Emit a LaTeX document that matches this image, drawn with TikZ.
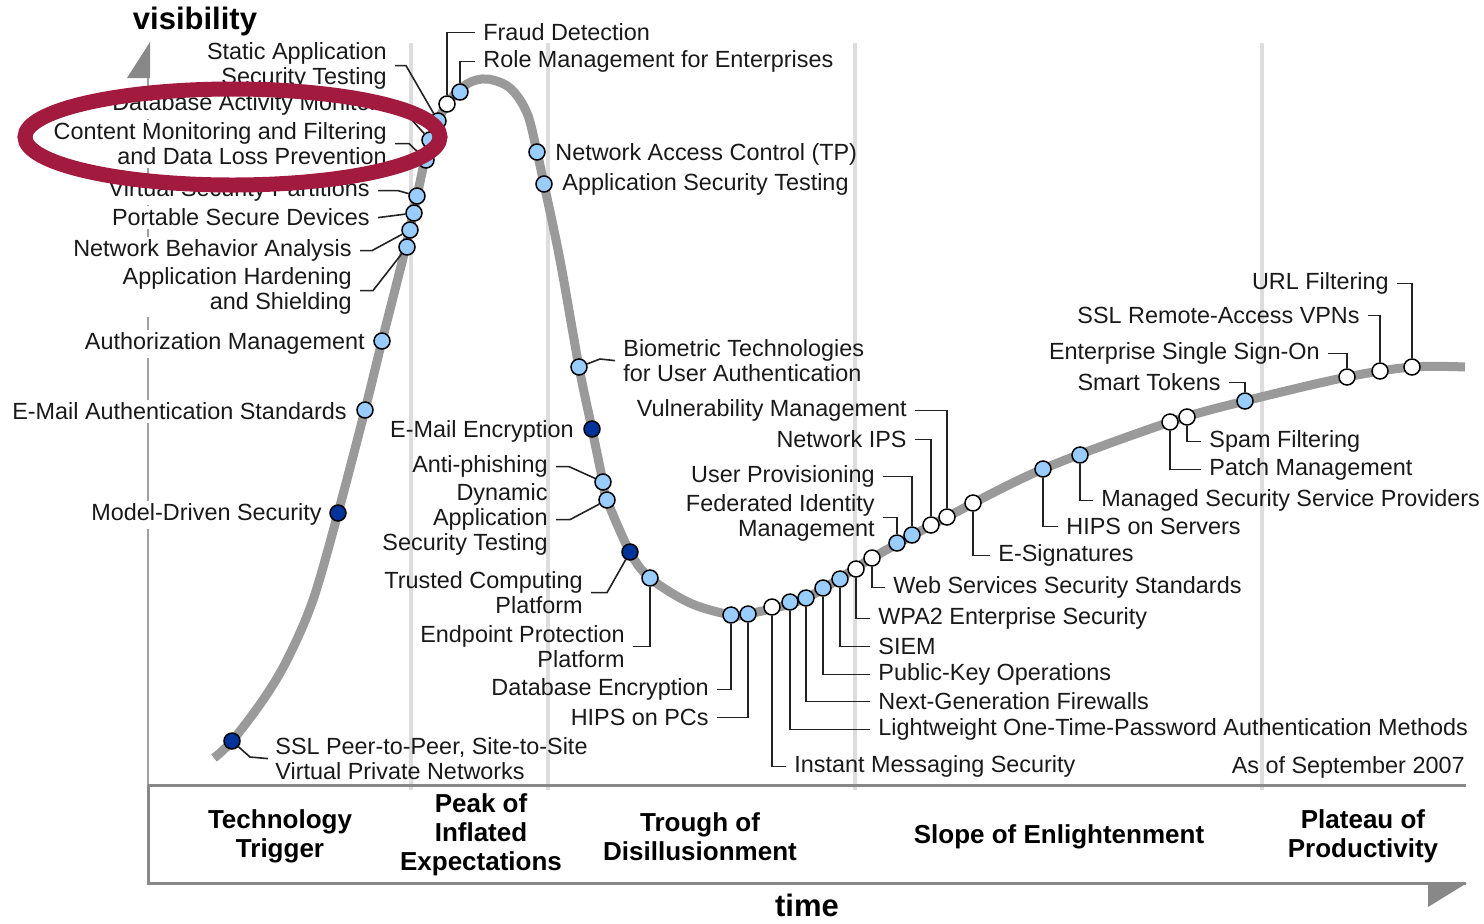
\documentclass[tikz,border=0pt]{standalone}
\usepackage{fontspec}
\setmainfont{Liberation Sans}
\newcommand\labfont{\fontsize{11.7}{12.5}\selectfont}
\newcommand\phasefont{\fontsize{13}{14.4}\selectfont\bfseries}
\newcommand\axfont{\fontsize{15.5}{17}\selectfont\bfseries}
\definecolor{lblue}{HTML}{99CCFF}
\definecolor{dblue}{HTML}{003399}
\definecolor{curvec}{HTML}{9A9A9A}
\definecolor{sepc}{HTML}{DDDDDD}
\definecolor{axc}{HTML}{888888}
\definecolor{conc}{HTML}{222222}
\definecolor{ringc}{HTML}{A31A3F}
\pgfdeclarelayer{back}
\pgfdeclarelayer{mid}
\pgfdeclarelayer{front}
\pgfsetlayers{back,mid,main,front}
\begin{document}
\begin{tikzpicture}[x=0.5pt,y=-0.5pt,
  lbl/.style={font=\labfont, inner sep=0pt, text=black!90, yshift=-0.8pt},
  lblw/.style={lbl, fill=white, inner xsep=0pt, inner ysep=1.5pt},
  phase/.style={font=\phasefont, align=center, inner sep=0pt, yshift=-0.8pt},
  axlbl/.style={font=\axfont, inner sep=0pt},
  dotbase/.style={circle, draw=black, line width=0.75pt, minimum size=8pt, inner sep=0pt},
  dl/.style={dotbase, fill=lblue},
  dw/.style={dotbase, fill=white},
  dd/.style={dotbase, fill=dblue},
  con/.style={draw=conc, line width=0.8pt},
  sepline/.style={draw=sepc, line width=2pt},
]
\useasboundingbox (0,0) rectangle (1484,923);

% ---------- background: separators, axes, frame, curve
\begin{pgfonlayer}{back}
\foreach \sx in {411,548,855,1262} \draw[sepline] (\sx,43) -- (\sx,790);
\draw[draw=axc!80, line width=1.2pt] (148,77) -- (148,785);
\fill[axc] (127,78) -- (150,42) -- (150,78) -- cycle;
\draw[draw=axc, line width=1.5pt] (148,785) -- (1466,785);
\draw[draw=axc, line width=1.5pt] (148,785) -- (148,883) -- (1466,883);
\fill[axc] (1428,883) -- (1467,883) -- (1428,907) -- cycle;
\draw[draw=curvec, line width=4.5pt] plot[smooth, tension=0.55] coordinates {
 (214,758) (232,741) (263,700) (287,660) (313,600) (338,513) (365,410) (382,341)
 (405,250) (417,196) (430,140) (447,104) (467,84) (487,79) (510,88) (527,113)
 (537,152) (544,184) (560,260) (579,367) (592,429) (603,482) (607,500) (630,552)
 (650,578) (690,603) (731,615) (748,614) (806,598) (872,558) (947,517) (1043,469)
 (1170,422) (1245,401) (1347,377) (1412,367) (1465,367)};
\end{pgfonlayer}

% ---------- axis and phase labels
\node[axlbl] (vis) at (195,21) {visibility};
\node[axlbl] (time) at (807,905) {time};
\node[phase] (ph1) at (280,835) {Technology\\Trigger};
\node[phase] (ph2) at (481,833) {Peak of\\Inflated\\Expectations};
\node[phase] (ph3) at (700,835) {Trough of\\Disillusionment};
\node[phase] (ph4) at (1059,835) {Slope of Enlightenment};
\node[phase] (ph5) at (1363,835) {Plateau of\\Productivity};

% ---------- dots
\node[dd] (dSSL) at (232,741) {};
\node[dd] (dMDS) at (338,513) {};
\node[dl] (dEAS) at (365,410) {};
\node[dl] (dAM) at (382,341) {};
\node[dl] (dAHS) at (407,247) {};
\node[dl] (dNBA) at (410,230) {};
\node[dl] (dPSD) at (414,213) {};
\node[dl] (dVSP) at (417,196) {};
\node[dl] (dCMF) at (426,160) {};
\node[dl] (dDAM) at (430,140) {};
\node[dl] (dSAST) at (438,121) {};
\node[dw] (dFD) at (447,104) {};
\node[dl] (dRM) at (460,92) {};
\node[dl] (dNAC) at (537,152) {};
\node[dl] (dAST) at (544,184) {};
\node[dl] (dBT) at (579,367) {};
\node[dd] (dEE) at (592,429) {};
\node[dl] (dAP) at (603,482) {};
\node[dl] (dDAST) at (607,500) {};
\node[dd] (dTCP) at (630,552) {};
\node[dl] (dEPP) at (650,578) {};
\node[dl] (dDE) at (731,615) {};
\node[dl] (dHP) at (748,614) {};
\node[dw] (dIMS) at (772,607) {};
\node[dl] (dLOTP) at (790,602) {};
\node[dl] (dNGF) at (806,598) {};
\node[dl] (dPKO) at (823,588) {};
\node[dl] (dSIEM) at (840,579) {};
\node[dw] (dWPA) at (856,569) {};
\node[dw] (dWS) at (872,558) {};
\node[dl] (dFIM) at (897,543) {};
\node[dl] (dUP) at (912,535) {};
\node[dw] (dNIPS) at (931,525) {};
\node[dw] (dVM) at (947,517) {};
\node[dw] (dES) at (973,503) {};
\node[dl] (dHS) at (1043,469) {};
\node[dl] (dMSSP) at (1080,455) {};
\node[dw] (dPM) at (1170,422) {};
\node[dw] (dSF) at (1187,417) {};
\node[dl] (dST) at (1245,401) {};
\node[dw] (dESSO) at (1347,377) {};
\node[dw] (dSSLR) at (1380,371) {};
\node[dw] (dURL) at (1412,367) {};

% ---------- labels, left (rising)
\node[lbl, align=right, anchor=east] (lSAST) at (387,64) {Static Application\\Security Testing};
\node[lblw, anchor=east] (lDAM) at (378,103) {Database Activity Monitor};
\node[lblw, align=right, anchor=east] (lCMF) at (387,142) {Content Monitoring and Filtering\\and Data Loss Prevention};
\node[lblw, anchor=east] (lVSP) at (370,189) {Virtual Security Partitions};
\node[lblw, anchor=east] (lPSD) at (370,216) {Portable Secure Devices};
\node[lblw, anchor=east] (lNBA) at (352,249) {Network Behavior Analysis};
\node[lblw, align=right, anchor=east] (lAHS) at (352,289) {Application Hardening\\and Shielding};
\node[lblw, anchor=east] (lAM) at (365,342) {Authorization Management};
\node[lblw, anchor=east] (lEAS) at (347,410) {E-Mail Authentication Standards};
\node[lblw, anchor=east] (lMDS) at (322,513) {Model-Driven Security};
\node[lbl, align=left, anchor=west] (lSSL) at (275,757) {SSL Peer-to-Peer, Site-to-Site\\Virtual Private Networks};

% ---------- labels, top and falling
\node[lbl, anchor=west] (lFD) at (483,31) {Fraud Detection};
\node[lbl, anchor=west] (lRM) at (483,60) {Role Management for Enterprises};
\node[lbl, anchor=west] (lNAC) at (555,153) {Network Access Control (TP)};
\node[lbl, anchor=west] (lAST) at (562,183) {Application Security Testing};
\node[lbl, align=left, anchor=west] (lBT) at (623,359) {Biometric Technologies\\for User Authentication};
\node[lbl, anchor=east] (lEE) at (574,430) {E-Mail Encryption};
\node[lbl, anchor=east] (lAP) at (548,465) {Anti-phishing};
\node[lbl, align=right, anchor=east] (lDAST) at (548,518) {Dynamic\\Application\\Security Testing};
\node[lbl, align=right, anchor=east] (lTCP) at (583,591) {Trusted Computing\\Platform};
\node[lbl, align=right, anchor=east] (lEPP) at (625,645) {Endpoint Protection\\Platform};
\node[lbl, anchor=east] (lDE) at (709,688) {Database Encryption};
\node[lbl, anchor=east] (lHP) at (709,716) {HIPS on PCs};

% ---------- labels, trough and slope
\node[lbl, anchor=west] (lIMS) at (794,765) {Instant Messaging Security};
\node[lbl, anchor=west] (lLOTP) at (878,728) {Lightweight One-Time-Password Authentication Methods};
\node[lbl, anchor=west] (lNGF) at (878,700) {Next-Generation Firewalls};
\node[lbl, anchor=west] (lPKO) at (878,673) {Public-Key Operations};
\node[lbl, anchor=west] (lSIEM) at (878,645) {SIEM};
\node[lbl, anchor=west] (lWPA) at (878,617) {WPA2 Enterprise Security};
\node[lbl, anchor=west] (lWS) at (893,586) {Web Services Security Standards};
\node[lbl, align=right, anchor=east] (lFIM) at (875,516) {Federated Identity\\Management};
\node[lbl, anchor=east] (lUP) at (875,475) {User Provisioning};
\node[lbl, anchor=east] (lNIPS) at (907,438) {Network IPS};
\node[lbl, anchor=east] (lVM) at (907,409) {Vulnerability Management};
\node[lbl, anchor=west] (lES) at (998,554) {E-Signatures};
\node[lbl, anchor=west] (lHS) at (1066,525) {HIPS on Servers};
\node[lbl, anchor=west] (lMSSP) at (1101,499) {Managed Security Service Providers};
\node[lbl, anchor=west] (lPM) at (1209,468) {Patch Management};
\node[lbl, anchor=west] (lSF) at (1209,440) {Spam Filtering};
\node[lbl, anchor=east] (lST) at (1221,381) {Smart Tokens};
\node[lbl, anchor=east] (lESSO) at (1320,352) {Enterprise Single Sign-On};
\node[lbl, anchor=east] (lSSLR) at (1360,314) {SSL Remote-Access VPNs};
\node[lbl, anchor=east] (lURL) at (1389,282) {URL Filtering};
\node[lbl, anchor=east] (lAsOf) at (1465,766) {As of September 2007};

% ---------- connectors
\begin{pgfonlayer}{mid}
\draw[con] (dSSL) -- ++(18,16) -- ([xshift=-3.5pt]lSSL.west);
\draw[con] ([xshift=4pt]lSAST.east) -- ++(11,0) -- (dSAST);
\draw[con] ([xshift=4pt]lDAM.east) -- ++(12,0) -- (dDAM);
\draw[con] ([xshift=4pt]lCMF.east) -- ++(14,0) -- (dCMF);
\draw[con] ([xshift=4pt]lVSP.east) -- ++(20,0) -- (dVSP);
\draw[con] ([xshift=4pt]lPSD.east) -- (dPSD);
\draw[con] ([xshift=4pt]lNBA.east) -- ++(12,0) -- (dNBA);
\draw[con] ([xshift=4pt]lAHS.east) -- ++(13,0) -- (dAHS);
\draw[con] ([xshift=-4pt]lFD.west) -| (dFD);
\draw[con] ([xshift=-4pt]lRM.west) -| (dRM);
\draw[con] (dBT) -- ++(21,-8) -- ([xshift=-4pt]lBT.west);
\draw[con] ([xshift=4pt]lAP.east) -- ++(13,0) -- (dAP);
\draw[con] ([xshift=4pt]lDAST.east) -- ++(14,0) -- (dDAST);
\draw[con] ([xshift=4pt]lTCP.east) -- ++(16,0) -- (dTCP);
\draw[con] ([xshift=4pt]lEPP.east) -| (dEPP);
\draw[con] ([xshift=4pt]lDE.east) -| (dDE);
\draw[con] ([xshift=4pt]lHP.east) -| (dHP);
\foreach \n in {IMS,LOTP,NGF,PKO,SIEM,WPA,WS,ES,HS,MSSP,PM,SF}
  \draw[con] (d\n) |- ([xshift=-4pt]l\n.west);
\foreach \n in {FIM,UP,NIPS,VM,ST,ESSO,SSLR,URL}
  \draw[con] ([xshift=4pt]l\n.east) -| (d\n);
\end{pgfonlayer}

% ---------- highlight ring
\begin{pgfonlayer}{front}
\draw[draw=ringc, line width=7.5pt] (232.5,137) ellipse [x radius=103.75pt, y radius=24pt];
\end{pgfonlayer}
\end{tikzpicture}
\end{document}
